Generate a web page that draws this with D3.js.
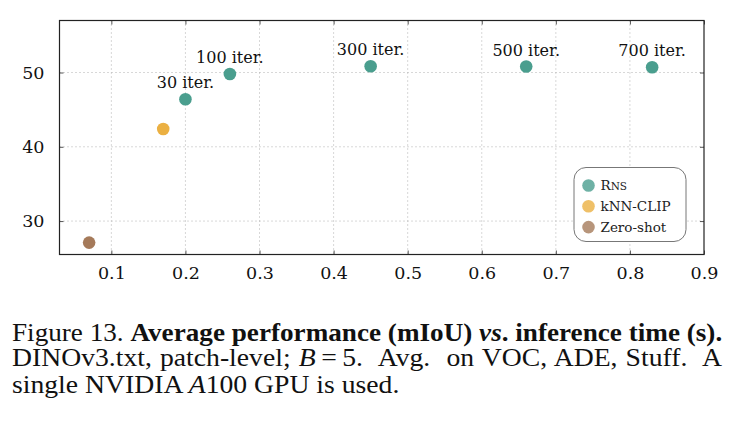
<!DOCTYPE html>
<html>
<head>
<meta charset="utf-8">
<script src="https://cdn.jsdelivr.net/npm/d3@7"></script>
<style>
  body { margin: 0; background: #fff; }
  svg { display: block; }
</style>
</head>
<body>
<div id="chart"></div>
<script>
// data
const seriesNames = ["RnS", "kNN-CLIP", "Zero-shot"];
const seriesColors = ["#4a9e8e", "#ebb042", "#a57a5a"];
const rnsTime = [0.20, 0.26, 0.45, 0.66, 0.83];
const rnsMiou = [46.4, 49.8, 50.85, 50.8, 50.7];
const rnsLabels = ["30 iter.", "100 iter.", "300 iter.", "500 iter.", "700 iter."];
const knnTime = [0.17];
const knnMiou = [42.4];
const zeroTime = [0.07];
const zeroMiou = [27.1];
const xTicks = [0.1, 0.2, 0.3, 0.4, 0.5, 0.6, 0.7, 0.8, 0.9];
const yTicks = [30, 40, 50];

const width = 740, height = 429;
const margin = {top: 20.5, right: 36, bottom: 174.5, left: 59.5};
const plotFont = "'DejaVu Serif', serif";
const captionFont = "'Liberation Serif', 'Times New Roman', serif";

const svg = d3.select('#chart')
  .append('svg')
  .attr('width', width)
  .attr('height', height);

const x = d3.scaleLinear()
  .domain([0.03, 0.9])
  .range([margin.left, width - margin.right]);

const y = d3.scaleLinear()
  .domain([25.5, 57])
  .range([height - margin.bottom, margin.top]);

const plotW = x.range()[1] - x.range()[0];
const plotH = y.range()[0] - y.range()[1];

// dotted grid
const grid = svg.append('g')
  .attr('stroke', '#b0b0b0')
  .attr('stroke-width', 1)
  .attr('stroke-dasharray', '1,3');

grid.selectAll('line.vx')
  .data(xTicks.slice(0, -1))
  .enter()
  .append('line')
  .attr('x1', d => x(d)).attr('x2', d => x(d))
  .attr('y1', y.range()[1]).attr('y2', y.range()[0]);

grid.selectAll('line.hy')
  .data(yTicks)
  .enter()
  .append('line')
  .attr('x1', x.range()[0]).attr('x2', x.range()[1])
  .attr('y1', d => y(d)).attr('y2', d => y(d));

// axes with inner ticks on all four sides
const tickLen = 4;
const axisStyle = g => {
  g.select('.domain').remove();
  g.selectAll('.tick line').attr('stroke', '#555');
  g.selectAll('.tick text')
    .attr('font-family', plotFont)
    .attr('font-size', 17.5)
    .attr('fill', '#111');
};

svg.append('g')
  .attr('transform', `translate(0,${y.range()[0]})`)
  .call(d3.axisBottom(x).tickValues(xTicks).tickFormat(d3.format('.1f'))
    .tickSizeInner(-tickLen).tickPadding(12))
  .call(axisStyle);

svg.append('g')
  .attr('transform', `translate(0,${y.range()[1]})`)
  .call(d3.axisTop(x).tickValues(xTicks).tickFormat('').tickSizeInner(-tickLen))
  .call(axisStyle);

svg.append('g')
  .attr('transform', `translate(${x.range()[0]},0)`)
  .call(d3.axisLeft(y).tickValues(yTicks).tickSizeInner(-tickLen).tickPadding(15))
  .call(axisStyle);

svg.append('g')
  .attr('transform', `translate(${x.range()[1]},0)`)
  .call(d3.axisRight(y).tickValues(yTicks).tickFormat('').tickSizeInner(-tickLen))
  .call(axisStyle);

// frame
svg.append('rect')
  .attr('x', x.range()[0])
  .attr('y', y.range()[1])
  .attr('width', plotW)
  .attr('height', plotH)
  .attr('fill', 'none')
  .attr('stroke', '#222')
  .attr('stroke-width', 1.2);

// points
const series = [
  {name: seriesNames[0], color: seriesColors[0], xs: rnsTime, ys: rnsMiou, labels: rnsLabels},
  {name: seriesNames[1], color: seriesColors[1], xs: knnTime, ys: knnMiou, labels: []},
  {name: seriesNames[2], color: seriesColors[2], xs: zeroTime, ys: zeroMiou, labels: []}
];

series.forEach(s => {
  const pts = s.xs.map((t, i) => ({t: t, m: s.ys[i], label: s.labels[i]}));
  svg.append('g')
    .selectAll('circle')
    .data(pts)
    .enter()
    .append('circle')
    .attr('cx', d => x(d.t))
    .attr('cy', d => y(d.m))
    .attr('r', 6.3)
    .attr('fill', s.color);

  svg.append('g')
    .selectAll('text')
    .data(pts.filter(d => d.label))
    .enter()
    .append('text')
    .attr('x', d => x(d.t))
    .attr('y', d => y(d.m) - 11)
    .attr('text-anchor', 'middle')
    .attr('font-family', plotFont)
    .attr('font-size', 16)
    .attr('fill', '#111')
    .text(d => d.label);
});

// legend
const legend = svg.append('g').attr('transform', 'translate(574,167.5)');
legend.append('rect')
  .attr('width', 112)
  .attr('height', 74)
  .attr('rx', 12)
  .attr('fill', '#fff')
  .attr('stroke', '#777')
  .attr('stroke-width', 1);

const rows = legend.selectAll('g.row')
  .data(series)
  .enter()
  .append('g')
  .attr('transform', (d, i) => `translate(14.5,${18 + i * 20.8})`);

rows.append('circle')
  .attr('r', 6.3)
  .attr('fill', d => d.color)
  .attr('fill-opacity', 0.8);

const legendText = rows.append('text')
  .attr('x', 12)
  .attr('y', 4.8)
  .attr('font-family', plotFont)
  .attr('font-size', 13.5)
  .attr('fill', '#222');

legendText.each(function (d) {
  const t = d3.select(this);
  if (d.name === 'RnS') {
    t.append('tspan').text('R');
    t.append('tspan').attr('font-size', 10.5).text('NS');
  } else {
    t.text(d.name);
  }
});

// caption (Times-like, slightly wide as in the figure)
const captionLines = [
  [["Figure 13. ", ""], ["Average performance (mIoU) ", "bold"], ["vs", "bolditalic"], [". inference time (s).", "bold"]],
  [["DINOv3.txt, patch-level; ", ""], ["B", "italic"], ["\u2009=\u20095.  Avg.  on VOC, ADE, Stuff.  A", ""]],
  [["single NVIDIA ", ""], ["A", "italic"], ["100 GPU is used.", ""]]
];
const captionBase = [340.5, 366, 392.5];
const captionJustify = [true, true, false];
const captionLeft = 12, captionWidth = 710, captionStretch = 1.13;

captionLines.forEach((parts, i) => {
  const g = svg.append('g')
    .attr('transform', `translate(${captionLeft},${captionBase[i]}) scale(${captionStretch},1)`);
  const t = g.append('text')
    .attr('font-family', captionFont)
    .attr('font-size', 24.5)
    .attr('fill', '#111')
    .style('white-space', 'pre');
  parts.forEach(p => {
    const span = t.append('tspan').text(p[0]);
    if (p[1].includes('bold')) span.attr('font-weight', 'bold');
    if (p[1].includes('italic')) span.attr('font-style', 'italic');
  });
  if (captionJustify[i]) {
    const natural = t.node().getComputedTextLength();
    const spaces = parts.map(p => p[0]).join('').split(' ').length - 1;
    const extra = (captionWidth / captionStretch - natural) / spaces;
    if (extra >= 0) {
      t.attr('word-spacing', extra);
    } else {
      // too wide: narrow this line to fit instead of squeezing the spaces
      g.attr('transform', `translate(${captionLeft},${captionBase[i]}) scale(${captionWidth / natural},1)`);
    }
  }
});
</script>
</body>
</html>
